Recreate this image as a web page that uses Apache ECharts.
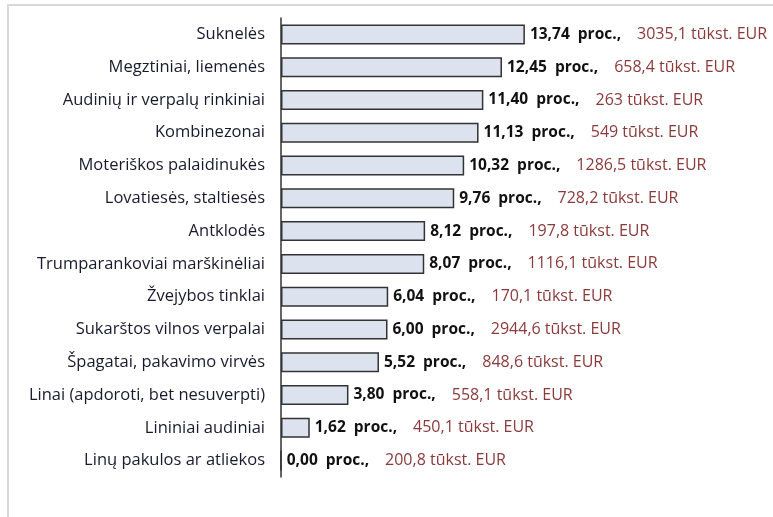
<!DOCTYPE html>
<html>
<head>
<meta charset="utf-8">
<script src="https://cdn.jsdelivr.net/npm/echarts@6/dist/echarts.min.js"></script>
<style>
  html, body { margin: 0; padding: 0; background: #fff; }
  #main { width: 773px; height: 517px; }
</style>
</head>
<body>
<div id="main"></div>
<script>
// categories from top to bottom
const categories = [
  'Suknelės',
  'Megztiniai, liemenės',
  'Audinių ir verpalų rinkiniai',
  'Kombinezonai',
  'Moteriškos palaidinukės',
  'Lovatiesės, staltiesės',
  'Antklodės',
  'Trumparankoviai marškinėliai',
  'Žvejybos tinklai',
  'Sukarštos vilnos verpalai',
  'Špagatai, pakavimo virvės',
  'Linai (apdoroti, bet nesuverpti)',
  'Lininiai audiniai',
  'Linų pakulos ar atliekos'
];
const percent = [13.74, 12.45, 11.40, 11.13, 10.32, 9.76, 8.12, 8.07, 6.04, 6.00, 5.52, 3.80, 1.62, 0.00];
const thousandEur = ['3035,1', '658,4', '263', '549', '1286,5', '728,2', '197,8', '1116,1', '170,1', '2944,6', '848,6', '558,1', '450,1', '200,8'];

const chart = echarts.init(document.getElementById('main'));

const fmt = v => v.toFixed(2).replace('.', ',');

chart.setOption({
  animation: false,
  textStyle: { fontFamily: 'Open Sans' },
  graphic: [{
    type: 'rect',
    shape: { x: 8, y: 5, width: 900, height: 600 },
    style: { fill: 'none', stroke: '#d9d9d9', lineWidth: 2 }
  }],
  grid: { left: 281, top: 18, bottom: 40, right: 137 },
  xAxis: {
    type: 'value', min: 0, max: 20,
    show: false
  },
  yAxis: {
    type: 'category',
    inverse: true,
    data: categories,
    axisLine: { lineStyle: { color: '#333', width: 1.5 } },
    axisTick: { show: false },
    axisLabel: { color: '#1a1a2e', fontSize: 16.5, margin: 16 }
  },
  series: [{
    type: 'bar',
    data: percent,
    barWidth: 20,
    itemStyle: { color: '#dce3ef', borderColor: '#333', borderWidth: 1.5 },
    label: {
      show: true,
      position: 'right',
      distance: 5,
      formatter: p => '{b|' + fmt(p.value) + '  proc.,}{e|' + thousandEur[p.dataIndex] + ' tūkst. EUR}',
      rich: {
        b: { fontWeight: 'bold', color: '#111', fontSize: 15.5 },
        e: { color: '#8b3a3a', fontSize: 16, padding: [0, 0, 0, 16] }
      }
    }
  }]
});
</script>
</body>
</html>
